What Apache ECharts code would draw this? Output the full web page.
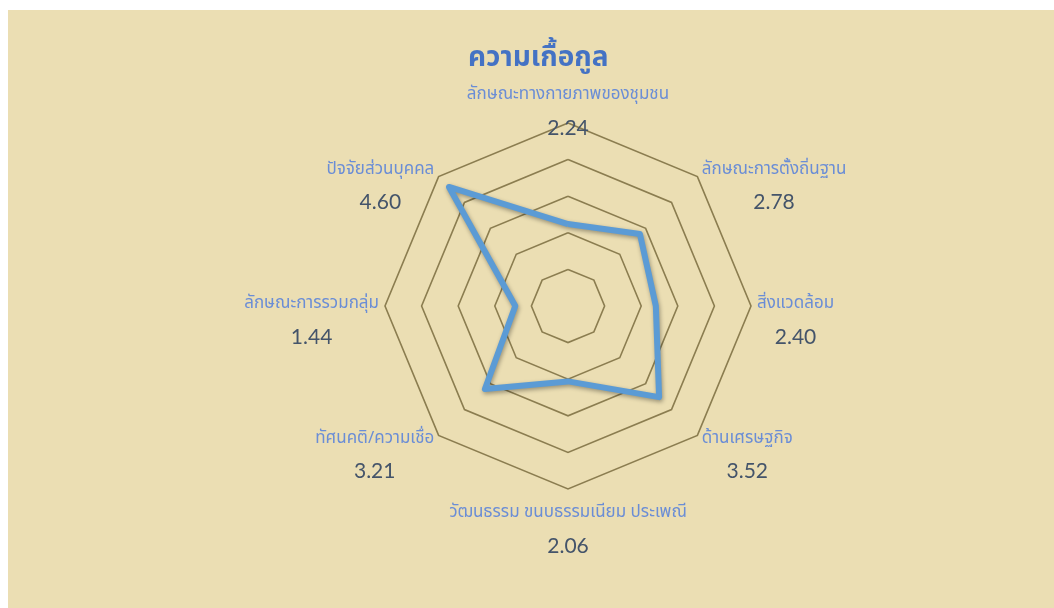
<!DOCTYPE html>
<html>
<head>
<meta charset="utf-8">
<script src="https://cdn.jsdelivr.net/npm/echarts@6/dist/echarts.min.js"></script>
<style>
  html, body { margin: 0; padding: 0; background: #ffffff; }
  #chart { position: absolute; left: 8px; top: 10px; width: 1046px; height: 598px; background: #EBDEB3; }
</style>
</head>
<body>
<div id="chart"></div>
<script>
// ข้อมูล (เรียงตามเข็มนาฬิกา เริ่มจากด้านบน)
const categories = [
  'ลักษณะทางกายภาพของชุมชน',
  'ลักษณะการตั้งถิ่นฐาน',
  'สิ่งแวดล้อม',
  'ด้านเศรษฐกิจ',
  'วัฒนธรรม ขนบธรรมเนียม ประเพณี',
  'ทัศนคติ/ความเชื่อ',
  'ลักษณะการรวมกลุ่ม',
  'ปัจจัยส่วนบุคคล'
];
const values = [2.24, 2.78, 2.40, 3.52, 2.06, 3.21, 1.44, 4.60];
const maxValue = 5;
const titleText = 'ความเกื้อกูล';

const myChart = echarts.init(document.getElementById('chart'));

// echarts วาด radar ทวนเข็มนาฬิกา -> กลับลำดับ (คงตัวแรกไว้ด้านบน)
const order = [0];
for (let i = categories.length - 1; i > 0; i--) order.push(i);

const thaiFont = '"Noto Sans Thai", "Noto Sans", "DejaVu Sans", sans-serif';
const numFont = 'Lato, "Open Sans", sans-serif';

let indicator = order.map(function (i) {
  return { name: categories[i], max: maxValue };
});

function labelFor(name) {
  let i = categories.indexOf(name);
  let k = '';
  if (i === 2) k = 'R';   // ขยับป้ายด้านขวาออก
  if (i === 6) k = 'L';   // ขยับป้ายด้านซ้ายออก
  let s = '{n' + k + '|' + name + '}\n{v' + k + '|' + values[i].toFixed(2) + '}';
  // ปรับตำแหน่งแนวตั้งของป้ายเฉียง
  if (i === 1 || i === 7) s = s + '\n{sp|}';
  if (i === 3 || i === 5) s = '{sp|}\n' + s;
  return s;
}

const nameStyle = {
  fontFamily: thaiFont,
  fontSize: 17,
  color: '#6A8DD6',
  lineHeight: 24,
  align: 'center'
};
const valueStyle = {
  fontFamily: numFont,
  fontSize: 21,
  color: '#44546A',
  lineHeight: 40,
  align: 'center'
};

let option = {
  backgroundColor: '#EBDEB3',
  title: {
    text: titleText,
    left: 455,
    top: 31,
    textStyle: {
      fontFamily: thaiFont,
      fontSize: 28,
      fontWeight: 'bold',
      color: '#4472C4'
    }
  },
  radar: {
    center: [560, 296],
    radius: 183,
    startAngle: 90,
    splitNumber: 5,
    shape: 'polygon',
    indicator: indicator,
    axisLine: { show: false },
    axisTick: { show: false },
    splitArea: { show: false },
    splitLine: { lineStyle: { color: '#8B7D50', width: 1.6 } },
    axisNameGap: -25,
    axisName: {
      padding: [38, 22, 0, 22],
      formatter: labelFor,
      rich: {
        n: nameStyle,
        v: valueStyle,
        nR: Object.assign({}, nameStyle, { padding: [0, 0, 0, 9] }),
        vR: Object.assign({}, valueStyle, { padding: [0, 0, 0, 9] }),
        nL: Object.assign({}, nameStyle, { padding: [0, 9, 0, 0] }),
        vL: Object.assign({}, valueStyle, { padding: [0, 9, 0, 0] }),
        sp: { fontSize: 10, lineHeight: 46 }
      }
    }
  },
  series: [{
    type: 'radar',
    symbol: 'none',
    silent: true,
    animation: false,
    lineStyle: {
      color: '#5B9BD5',
      width: 6,
      join: 'round',
      shadowColor: 'rgba(0,0,0,0.35)',
      shadowBlur: 4,
      shadowOffsetX: 1,
      shadowOffsetY: 2
    },
    data: [{ value: order.map(function (i) { return values[i]; }) }]
  }]
};

myChart.setOption(option);
</script>
</body>
</html>
